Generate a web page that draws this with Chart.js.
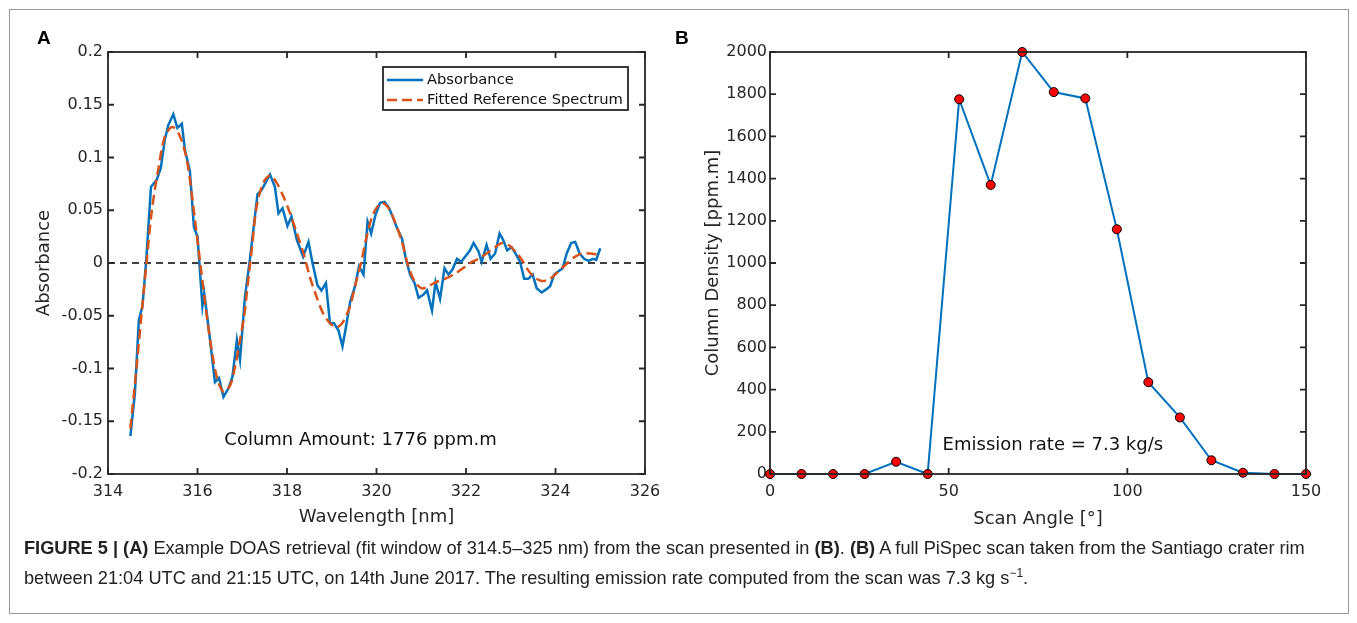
<!DOCTYPE html>
<html>
<head>
<meta charset="utf-8">
<script src="https://cdn.jsdelivr.net/npm/chart.js@4.4.0/dist/chart.umd.min.js"></script>
<style>
  body { margin: 0; background: #fff; width: 1357px; height: 623px; overflow: hidden; position: relative; }
  #frame { position: absolute; left: 9px; top: 9px; width: 1338px; height: 603px; border: 1px solid #9a9a9a; }
  canvas { position: absolute; top: 0; }
  #c1 { left: 0; }
  #c2 { left: 680px; }
  .panel { position: absolute; top: 27px; font: bold 19px "Liberation Sans", Arial, sans-serif; color: #000; }
  #caption { position: absolute; left: 24px; top: 533px; font: 18.2px "Liberation Sans", Arial, sans-serif; color: #222; line-height: 30px; white-space: nowrap; }
  #caption sup { font-size: 12px; line-height: 0; }
</style>
</head>
<body>
<div id="frame"></div>
<canvas id="c1" width="680" height="540"></canvas>
<canvas id="c2" width="677" height="540"></canvas>
<div class="panel" style="left:37px">A</div>
<div class="panel" style="left:675px">B</div>
<div id="caption">
  <b>FIGURE 5 | (A)</b> Example DOAS retrieval (fit window of 314.5–325 nm) from the scan presented in <b>(B)</b>. <b>(B)</b> A full PiSpec scan taken from the Santiago crater rim<br>
  between 21:04 UTC and 21:15 UTC, on 14th June 2017. The resulting emission rate computed from the scan was 7.3 kg s<sup>−1</sup>.
</div>
<script>
const absWl = [314.50, 314.60, 314.69, 314.77, 314.86, 314.96, 315.09, 315.18, 315.27, 315.35,
  315.46, 315.55, 315.65, 315.72, 315.83, 315.92, 316.00, 316.11, 316.15, 316.20,
  316.28, 316.39, 316.48, 316.58, 316.69, 316.78, 316.88, 316.95, 317.06, 317.17,
  317.34, 317.43, 317.62, 317.73, 317.81, 317.90, 318.01, 318.10, 318.22, 318.36,
  318.48, 318.57, 318.68, 318.77, 318.87, 318.96, 319.05, 319.15, 319.24, 319.32,
  319.41, 319.52, 319.61, 319.71, 319.80, 319.88, 319.98, 320.08, 320.18, 320.27,
  320.36, 320.45, 320.57, 320.66, 320.75, 320.85, 320.94, 321.05, 321.13, 321.24,
  321.32, 321.42, 321.52, 321.61, 321.70, 321.80, 321.89, 321.98, 322.09, 322.17,
  322.28, 322.35, 322.46, 322.55, 322.65, 322.75, 322.83, 322.92, 323.02, 323.12,
  323.21, 323.30, 323.39, 323.49, 323.58, 323.69, 323.79, 323.88, 323.97, 324.06,
  324.16, 324.25, 324.35, 324.44, 324.54, 324.64, 324.74, 324.84, 324.91, 325.00];
const absVal = [-0.164, -0.124, -0.054, -0.041, 0.006, 0.072, 0.079, 0.090, 0.117, 0.131,
  0.141, 0.128, 0.132, 0.107, 0.087, 0.034, 0.025, -0.041, -0.029, -0.045,
  -0.073, -0.113, -0.109, -0.127, -0.119, -0.108, -0.073, -0.092, -0.032, 0.003,
  0.065, 0.069, 0.084, 0.072, 0.047, 0.052, 0.035, 0.044, 0.022, 0.006,
  0.020, 0.000, -0.021, -0.026, -0.019, -0.057, -0.057, -0.064, -0.079, -0.060,
  -0.037, -0.022, -0.003, -0.011, 0.039, 0.028, 0.046, 0.057, 0.058, 0.053,
  0.044, 0.034, 0.023, 0.003, -0.011, -0.019, -0.033, -0.030, -0.026, -0.045,
  -0.018, -0.034, -0.005, -0.011, -0.006, 0.004, 0.001, 0.006, 0.012, 0.019,
  0.011, 0.001, 0.017, 0.004, 0.009, 0.028, 0.022, 0.012, 0.015, 0.008,
  0.001, -0.015, -0.015, -0.011, -0.024, -0.028, -0.025, -0.022, -0.011, -0.008,
  -0.005, 0.009, 0.019, 0.020, 0.009, 0.004, 0.002, 0.004, 0.003, 0.014];

// Panel A: fitted reference spectrum
const fitWl = [314.50, 314.64, 314.75, 314.86, 314.98, 315.12, 315.27, 315.44, 315.61, 315.76,
  315.87, 315.98, 316.09, 316.20, 316.33, 316.45, 316.58, 316.73, 316.84, 316.95,
  317.05, 317.10, 317.21, 317.32, 317.47, 317.62, 317.77, 317.92, 318.07, 318.22,
  318.37, 318.51, 318.66, 318.81, 318.96, 319.11, 319.25, 319.41, 319.52, 319.67,
  319.78, 319.93, 320.11, 320.27, 320.42, 320.57, 320.71, 320.86, 321.01, 321.16,
  321.34, 321.53, 321.72, 321.90, 322.09, 322.28, 322.46, 322.65, 322.80, 322.95,
  323.10, 323.25, 323.39, 323.54, 323.69, 323.84, 323.99, 324.14, 324.29, 324.44,
  324.59, 324.77, 324.96];
const fitVal = [-0.157, -0.098, -0.048, 0.000, 0.050, 0.088, 0.120, 0.129, 0.120, 0.098,
  0.066, 0.028, -0.010, -0.048, -0.086, -0.111, -0.122, -0.116, -0.098, -0.073,
  -0.048, -0.029, 0.012, 0.053, 0.076, 0.083, 0.076, 0.063, 0.047, 0.028,
  0.009, -0.013, -0.032, -0.048, -0.057, -0.061, -0.056, -0.041, -0.022, 0.003,
  0.025, 0.047, 0.057, 0.052, 0.038, 0.020, -0.003, -0.018, -0.024, -0.022,
  -0.018, -0.015, -0.011, -0.006, 0.000, 0.004, 0.009, 0.015, 0.019, 0.017,
  0.011, 0.003, -0.007, -0.014, -0.017, -0.016, -0.011, -0.005, 0.001, 0.006,
  0.009, 0.009, 0.008];

// Panel B: scan
const scanAngle = [0, 8.82, 17.65, 26.47, 35.29, 44.12, 52.94, 61.76, 70.59, 79.41,
  88.24, 97.06, 105.88, 114.71, 123.53, 132.35, 141.18, 150];
const colDensity = [0, 0, 0, 0, 58, 0, 1776, 1370, 2000, 1810,
  1780, 1160, 435, 268, 65, 6, 0, 0];

const ink = '#262626';
const tickFont = { family: 'DejaVu Sans', size: 16 };
const titleFont = { family: 'DejaVu Sans', size: 18 };

function pts(xs, ys) {
  return xs.map((x, i) => ({ x: x, y: ys[i] }));
}

// matlab style box: frame, inward ticks on all sides, zero line, note, legend
const boxPlugin = {
  id: 'matlabBox',
  beforeDatasetsDraw(chart, args, opts) {
    if (!opts.zeroLine) return;
    const { ctx, chartArea: a, scales: { y } } = chart;
    const py = y.getPixelForValue(0);
    ctx.save();
    ctx.strokeStyle = '#000';
    ctx.lineWidth = 1.5;
    ctx.setLineDash([7, 5]);
    ctx.beginPath();
    ctx.moveTo(a.left, py);
    ctx.lineTo(a.right, py);
    ctx.stroke();
    ctx.restore();
  },
  afterDraw(chart, args, opts) {
    const { ctx, chartArea: a, scales: { x, y } } = chart;
    ctx.save();
    ctx.strokeStyle = ink;
    ctx.lineWidth = 1.8;
    ctx.setLineDash([]);
    ctx.strokeRect(a.left, a.top, a.right - a.left, a.bottom - a.top);
    const tl = 6;
    ctx.beginPath();
    x.ticks.forEach(t => {
      const px = x.getPixelForValue(t.value);
      ctx.moveTo(px, a.bottom); ctx.lineTo(px, a.bottom - tl);
      ctx.moveTo(px, a.top); ctx.lineTo(px, a.top + tl);
    });
    y.ticks.forEach(t => {
      const py = y.getPixelForValue(t.value);
      ctx.moveTo(a.left, py); ctx.lineTo(a.left + tl, py);
      ctx.moveTo(a.right, py); ctx.lineTo(a.right - tl, py);
    });
    ctx.stroke();

    if (opts.note) {
      ctx.fillStyle = '#111';
      ctx.font = '18px "DejaVu Sans"';
      ctx.textBaseline = 'middle';
      ctx.textAlign = 'left';
      ctx.fillText(opts.note.text, x.getPixelForValue(opts.note.x), y.getPixelForValue(opts.note.y));
    }

    if (opts.legend) {
      const L = opts.legend;
      ctx.fillStyle = '#fff';
      ctx.fillRect(L.x, L.y, L.w, L.h);
      ctx.strokeStyle = ink;
      ctx.lineWidth = 1.8;
      ctx.strokeRect(L.x, L.y, L.w, L.h);
      ctx.font = '14.7px "DejaVu Sans"';
      ctx.textBaseline = 'middle';
      ctx.fillStyle = '#111';
      const order = [1, 0];
      order.forEach((di, row) => {
        const ds = chart.data.datasets[di];
        const cy = L.y + 13 + row * 20;
        ctx.strokeStyle = ds.borderColor;
        ctx.lineWidth = ds.borderWidth;
        ctx.setLineDash(ds.borderDash || []);
        ctx.beginPath();
        ctx.moveTo(L.x + 4, cy);
        ctx.lineTo(L.x + 40, cy);
        ctx.stroke();
        ctx.setLineDash([]);
        ctx.fillText(ds.label, L.x + 44, cy);
      });
    }
    ctx.restore();
  }
};

function axisCommon(extra) {
  return Object.assign({
    type: 'linear',
    grid: { display: false, drawTicks: false },
    border: { display: false }
  }, extra);
}

new Chart(document.getElementById('c1'), {
  type: 'scatter',
  data: {
    datasets: [{
      label: 'Fitted Reference Spectrum',
      data: pts(fitWl, fitVal),
      showLine: true,
      borderColor: '#D95319',
      borderWidth: 2.5,
      borderDash: [10, 5],
      pointRadius: 0,
      tension: 0.3
    }, {
      label: 'Absorbance',
      data: pts(absWl, absVal),
      showLine: true,
      borderColor: '#0072BD',
      borderWidth: 2.5,
      pointRadius: 0
    }]
  },
  options: {
    responsive: false,
    animation: false,
    layout: { padding: { top: 52, right: 35, left: 0, bottom: 0 } },
    plugins: {
      legend: { display: false },
      tooltip: { enabled: false },
      matlabBox: {
        zeroLine: true,
        note: { text: 'Column Amount: 1776 ppm.m', x: 316.6, y: -0.168 },
        legend: { x: 383, y: 67, w: 245, h: 43 }
      }
    },
    scales: {
      x: axisCommon({
        min: 314, max: 326,
        ticks: { stepSize: 2, font: tickFont, color: ink, padding: 8, maxRotation: 0 },
        title: { display: true, text: 'Wavelength [nm]', font: titleFont, color: ink, padding: { top: 0, bottom: 12 } },
        afterFit(s) { s.height = 66; }
      }),
      y: axisCommon({
        min: -0.2, max: 0.2,
        ticks: { stepSize: 0.05, font: tickFont, color: ink, padding: 5,
          callback: v => parseFloat(v.toFixed(2)).toString() },
        title: { display: true, text: 'Absorbance', font: titleFont, color: ink, padding: { top: 34, bottom: 0 } },
        afterFit(s) { s.width = 108; }
      })
    }
  },
  plugins: [boxPlugin]
});

new Chart(document.getElementById('c2'), {
  type: 'scatter',
  data: {
    datasets: [{
      label: 'Column Density',
      data: pts(scanAngle, colDensity),
      showLine: true,
      borderColor: '#0072BD',
      borderWidth: 2,
      pointRadius: 4.5,
      pointBackgroundColor: '#ff0000',
      pointBorderColor: '#000',
      pointBorderWidth: 1,
      clip: false
    }]
  },
  options: {
    responsive: false,
    animation: false,
    layout: { padding: { top: 52, right: 51, left: 0, bottom: 0 } },
    plugins: {
      legend: { display: false },
      tooltip: { enabled: false },
      matlabBox: {
        note: { text: 'Emission rate = 7.3 kg/s', x: 48.3, y: 137 }
      }
    },
    scales: {
      x: axisCommon({
        min: 0, max: 150,
        ticks: { stepSize: 50, font: tickFont, color: ink, padding: 8, maxRotation: 0 },
        title: { display: true, text: 'Scan Angle [°]', font: titleFont, color: ink, padding: { top: 0, bottom: 10 } },
        afterFit(s) { s.height = 66; }
      }),
      y: axisCommon({
        min: 0, max: 2000,
        ticks: { stepSize: 200, font: tickFont, color: ink, padding: 3,
          callback: v => String(v) },
        title: { display: true, text: 'Column Density [ppm.m]', font: titleFont, color: ink, padding: { top: 23, bottom: 0 } },
        afterFit(s) { s.width = 90; }
      })
    }
  },
  plugins: [boxPlugin]
});
</script>
</body>
</html>
